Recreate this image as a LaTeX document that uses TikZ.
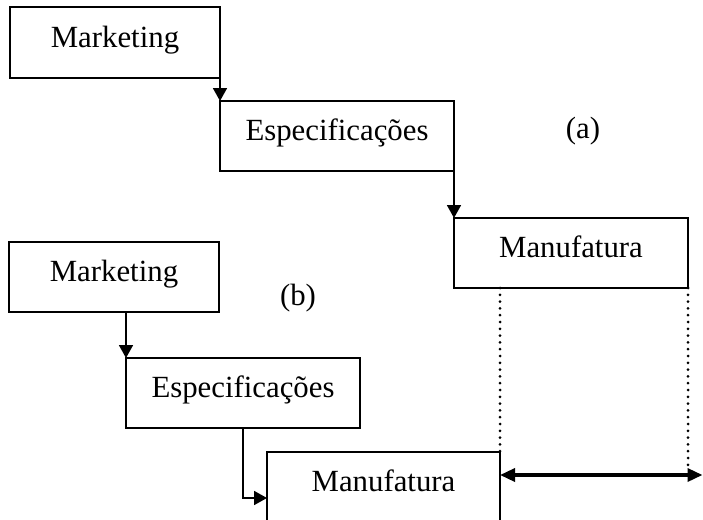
\documentclass[tikz,border=0pt]{standalone}
\usepackage{fontspec}
\setmainfont{Liberation Serif}
\usetikzlibrary{arrows.meta}
\begin{document}
\begin{tikzpicture}[x=1pt,y=-1pt,
  box/.style={draw,line width=2pt,rectangle,inner sep=0pt,outer sep=0pt,
    minimum height=70pt,font=\fontsize{30.8}{36}\selectfont,
    text height=20pt,text depth=10.5pt},
  flow/.style={line width=1.8pt,-{Triangle[length=13pt,width=14pt]}},
  dots/.style={line width=3pt,line cap=round,dash pattern=on 0pt off 6.8pt},
  lbl/.style={font=\fontsize{30.8}{36}\selectfont,inner sep=0pt}]
\useasboundingbox (0,0) rectangle (703,519);
\clip (0,0) rectangle (703,519);
% (a)
\node[box,minimum width=210pt] (ma) at (115,42.5) {Marketing};
\node[box,minimum width=234pt] (ea) at (337,136) {Especificações};
\node[box,minimum width=234pt] (fa) at (571,253) {Manufatura};
\node[lbl] (la) at (583,131) {(a)};
\draw[flow] (ma.south east) -- (ea.north west);
\draw[flow] (ea.south east) -- (fa.north west);
% (b)
\node[box,minimum width=210pt] (mb) at (114,276.5) {Marketing};
\node[box,minimum width=234pt] (eb) at (243,393) {Especificações};
\node[box,minimum width=233pt] (fb) at (383.5,487) {Manufatura};
\node[lbl] (lb) at (298,298) {(b)};
\draw[flow] (eb.north west |- mb.south) -- (eb.north west);
\coordinate (eb1) at (243,428);
\draw[flow] (eb1) |- (fb.west |- 0,498);
% comparison
\coordinate (d1) at (fb.north east |- fa.south);
\coordinate (d2) at (fa.south east |- 0,468);
\draw[dots] (d1) -- (fb.north east);
\draw[dots] (fa.south east) -- (d2);
\coordinate (ar) at (702.5,475);
\draw[line width=3.4pt,{Triangle[length=15pt,width=13pt]}-{Triangle[length=15pt,width=13pt]}] (fb.east |- ar) -- (ar);
\end{tikzpicture}
\end{document}
